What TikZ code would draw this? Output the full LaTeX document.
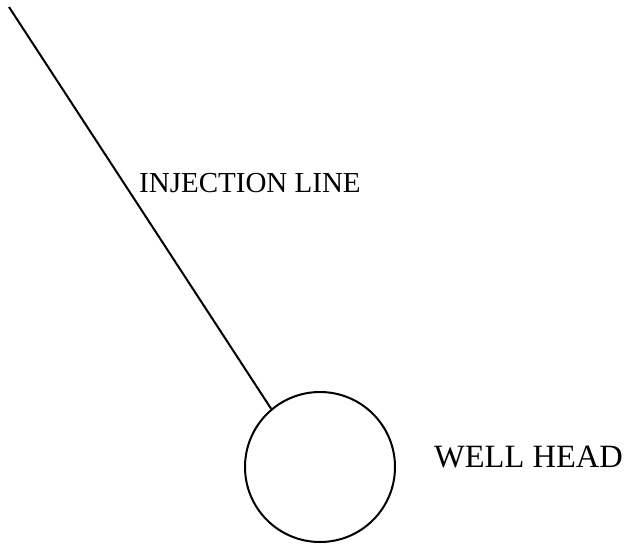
\documentclass[tikz,border=0pt]{standalone}
\usepackage{fontspec}
\setmainfont{Liberation Serif}
\begin{document}
\begin{tikzpicture}[x=1pt,y=-1pt,
  wellbox/.style={draw,circle,line width=2pt,minimum size=150pt,inner sep=0pt},
  lbl/.style={anchor=base west,inner sep=0pt}]
\useasboundingbox (0,0) rectangle (629,549);
\coordinate (start) at (9,7);
\node[wellbox] (well) at (320,467) {};
\draw[line width=2pt] (start) -- (well.130);
\node[lbl,font=\fontsize{29}{34}\selectfont] (inj) at (139,192) {INJECTION LINE};
\node[lbl,font=\fontsize{32.5}{38}\selectfont] (wh) at (434,467) {WELL HEAD};
\end{tikzpicture}
\end{document}
